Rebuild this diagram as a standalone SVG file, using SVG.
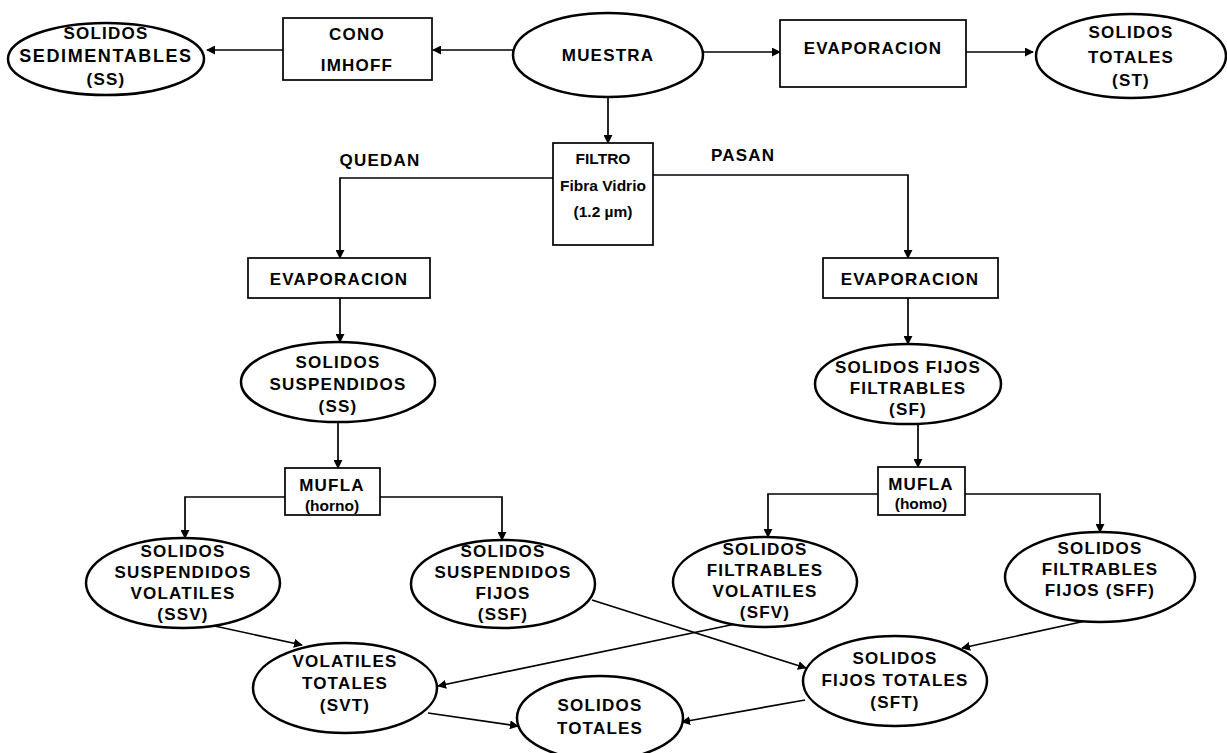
<svg xmlns="http://www.w3.org/2000/svg" width="1227" height="753" viewBox="0 0 1227 753">
<defs>
<marker id="ah" viewBox="0 0 10 10" refX="9" refY="5" markerWidth="9" markerHeight="9" markerUnits="userSpaceOnUse" orient="auto">
<path d="M0,0 L10,5 L0,10 z" fill="#000"/>
</marker>
<style>
.n{fill:#fff;stroke:#000;stroke-width:2.5}
.b{fill:#fff;stroke:#000;stroke-width:1.7}
.t{font-family:"Liberation Sans",Arial,sans-serif;font-weight:bold;font-size:17px;letter-spacing:1.2px;text-anchor:middle;dominant-baseline:central;fill:#000}
.s{font-family:"Liberation Sans",Arial,sans-serif;font-weight:bold;font-size:15.5px;text-anchor:middle;dominant-baseline:central;fill:#000}
.c{fill:none;stroke:#000;stroke-width:1.7}
</style>
</defs>
<rect width="1227" height="753" fill="#fff"/>
<g id="connectors">
<path class="c" d="M283,50 L207,50" marker-end="url(#ah)"/>
<path class="c" d="M513,50 L433,50" marker-end="url(#ah)"/>
<path class="c" d="M703,52 L780,52" marker-end="url(#ah)"/>
<path class="c" d="M966,52 L1033,52" marker-end="url(#ah)"/>
<path class="c" d="M608,97 L608,143" marker-end="url(#ah)"/>
<path class="c" d="M553,178 L340,178 L340,258" marker-end="url(#ah)"/>
<path class="c" d="M653,175 L908,175 L908,258" marker-end="url(#ah)"/>
<path class="c" d="M340,298 L340,342" marker-end="url(#ah)"/>
<path class="c" d="M338,422 L338,468" marker-end="url(#ah)"/>
<path class="c" d="M285,497 L185,497 L185,538" marker-end="url(#ah)"/>
<path class="c" d="M380,497 L502,497 L502,540" marker-end="url(#ah)"/>
<path class="c" d="M908,298 L908,344" marker-end="url(#ah)"/>
<path class="c" d="M918,424 L918,467" marker-end="url(#ah)"/>
<path class="c" d="M878,494 L768,494 L768,537" marker-end="url(#ah)"/>
<path class="c" d="M965,494 L1100,494 L1100,532" marker-end="url(#ah)"/>
<path class="c" d="M210,625 L302,645" marker-end="url(#ah)"/>
<path class="c" d="M745,622 L438,686" marker-end="url(#ah)"/>
<path class="c" d="M592,600 L806,668" marker-end="url(#ah)"/>
<path class="c" d="M1090,620 L962,648" marker-end="url(#ah)"/>
<path class="c" d="M428,713 L518,726" marker-end="url(#ah)"/>
<path class="c" d="M805,700 L682,722" marker-end="url(#ah)"/>
</g>
<g id="sed">
<ellipse class="n" cx="106" cy="59" rx="98" ry="36"/>
<text class="t" x="106" y="33">SOLIDOS</text>
<text class="t" x="106" y="56" style="font-size:18px;letter-spacing:1.6px">SEDIMENTABLES</text>
<text class="t" x="106" y="79">(SS)</text>
</g>
<g id="cono">
<rect class="b" x="283" y="18" width="149" height="62"/>
<text class="t" x="357" y="34">CONO</text>
<text class="t" x="357" y="65">IMHOFF</text>
</g>
<g id="muestra">
<ellipse class="n" cx="608" cy="55" rx="95" ry="42"/>
<text class="t" x="608" y="55">MUESTRA</text>
</g>
<g id="evap-top">
<rect class="b" x="780" y="20" width="186" height="67"/>
<text class="t" x="873" y="48">EVAPORACION</text>
</g>
<g id="st-top">
<ellipse class="n" cx="1131" cy="56" rx="95" ry="42"/>
<text class="t" x="1131" y="32">SOLIDOS</text>
<text class="t" x="1131" y="57">TOTALES</text>
<text class="t" x="1131" y="80">(ST)</text>
</g>
<g id="filtro">
<rect class="b" x="553" y="143" width="100" height="102"/>
<text class="s" x="603" y="158">FILTRO</text>
<text class="s" x="603" y="185">Fibra Vidrio</text>
<text class="s" x="603" y="211">(1.2 µm)</text>
</g>
<g id="labels">
<text class="t" x="380" y="160">QUEDAN</text>
<text class="t" x="743" y="155">PASAN</text>
</g>
<g id="evap-left">
<rect class="b" x="248" y="258" width="182" height="40"/>
<text class="t" x="339" y="279">EVAPORACION</text>
</g>
<g id="evap-right">
<rect class="b" x="823" y="258" width="175" height="40"/>
<text class="t" x="910" y="279">EVAPORACION</text>
</g>
<g id="ss">
<ellipse class="n" cx="338" cy="382" rx="97" ry="40"/>
<text class="t" x="338" y="362">SOLIDOS</text>
<text class="t" x="338" y="384">SUSPENDIDOS</text>
<text class="t" x="338" y="406">(SS)</text>
</g>
<g id="sf">
<ellipse class="n" cx="908" cy="384" rx="93" ry="40"/>
<text class="t" x="908" y="367">SOLIDOS FIJOS</text>
<text class="t" x="908" y="388">FILTRABLES</text>
<text class="t" x="908" y="409">(SF)</text>
</g>
<g id="mufla-left">
<rect class="b" x="285" y="468" width="95" height="47"/>
<text class="t" x="332" y="485">MUFLA</text>
<text class="s" x="332" y="505">(horno)</text>
</g>
<g id="mufla-right">
<rect class="b" x="878" y="467" width="87" height="48"/>
<text class="t" x="921" y="484">MUFLA</text>
<text class="s" x="921" y="503">(homo)</text>
</g>
<g id="ssv">
<ellipse class="n" cx="183" cy="583" rx="97" ry="45"/>
<text class="t" x="183" y="551">SOLIDOS</text>
<text class="t" x="183" y="572">SUSPENDIDOS</text>
<text class="t" x="183" y="593">VOLATILES</text>
<text class="t" x="183" y="614">(SSV)</text>
</g>
<g id="ssf">
<ellipse class="n" cx="503" cy="584" rx="92" ry="44"/>
<text class="t" x="503" y="551">SOLIDOS</text>
<text class="t" x="503" y="572">SUSPENDIDOS</text>
<text class="t" x="503" y="593">FIJOS</text>
<text class="t" x="503" y="614">(SSF)</text>
</g>
<g id="sfv">
<ellipse class="n" cx="765" cy="582" rx="92" ry="45"/>
<text class="t" x="765" y="549">SOLIDOS</text>
<text class="t" x="765" y="570">FILTRABLES</text>
<text class="t" x="765" y="591">VOLATILES</text>
<text class="t" x="765" y="612">(SFV)</text>
</g>
<g id="sff">
<ellipse class="n" cx="1100" cy="577" rx="95" ry="45"/>
<text class="t" x="1100" y="548">SOLIDOS</text>
<text class="t" x="1100" y="569">FILTRABLES</text>
<text class="t" x="1100" y="590">FIJOS (SFF)</text>
</g>
<g id="svt">
<ellipse class="n" cx="345" cy="688" rx="92" ry="45"/>
<text class="t" x="345" y="661">VOLATILES</text>
<text class="t" x="345" y="683">TOTALES</text>
<text class="t" x="345" y="705">(SVT)</text>
</g>
<g id="sft">
<ellipse class="n" cx="895" cy="681" rx="92" ry="45"/>
<text class="t" x="895" y="658">SOLIDOS</text>
<text class="t" x="895" y="680">FIJOS TOTALES</text>
<text class="t" x="895" y="702">(SFT)</text>
</g>
<g id="st-bottom">
<ellipse class="n" cx="600" cy="718" rx="83" ry="42"/>
<text class="t" x="600" y="705">SOLIDOS</text>
<text class="t" x="600" y="728">TOTALES</text>
</g>
</svg>
